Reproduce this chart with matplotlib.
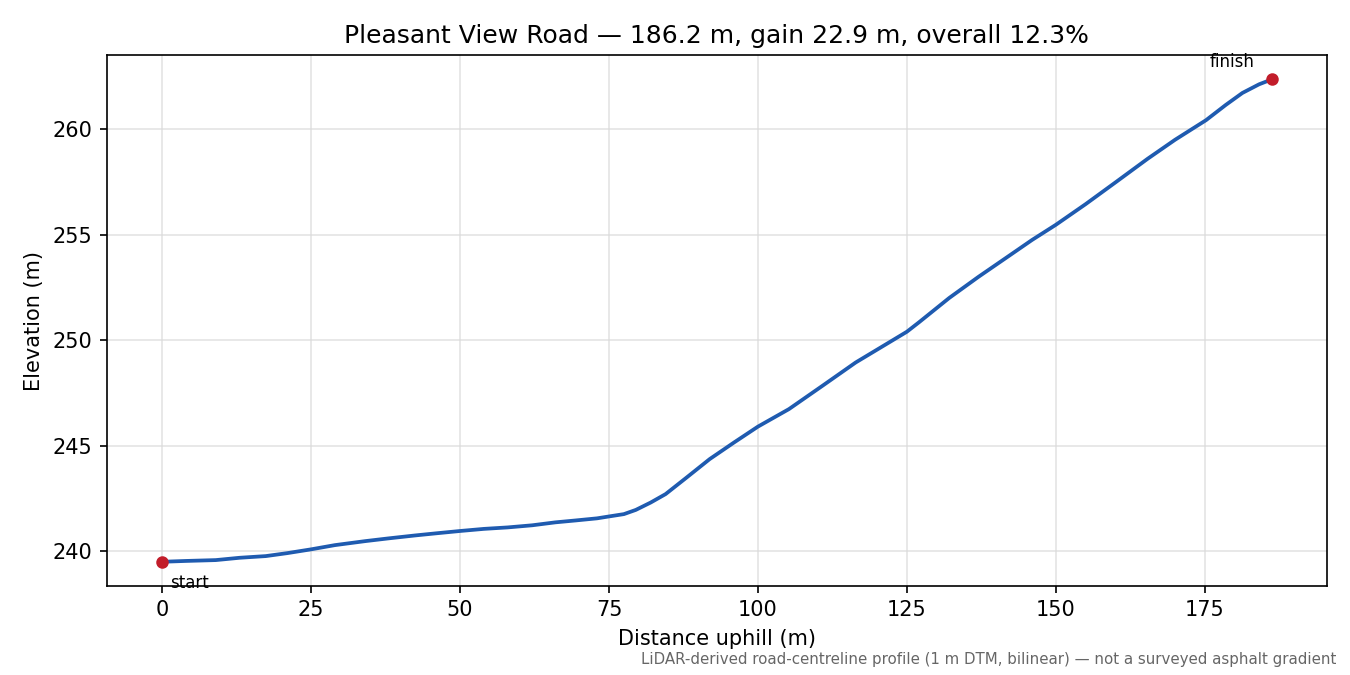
import numpy as np
import matplotlib
matplotlib.use("Agg")
import matplotlib.pyplot as plt

# profile (distance uphill m, elevation m)
dist = [0, 4, 9, 13, 17.4, 21, 25, 29, 34.1, 38, 42.5, 46, 50, 54, 58, 62.1, 66, 69.4,
        73, 75, 77.5, 79.5, 82, 84.5, 88, 91.9, 96, 100, 105.2, 110.8, 116.4, 122, 125,
        127, 132.1, 137, 142.2, 146, 150, 155, 160.1, 165.4, 170, 175.2, 178.5, 181.3,
        184.1, 186.2]
elev = [239.49, 239.53, 239.57, 239.68, 239.76, 239.9, 240.08, 240.28, 240.47, 240.6,
        240.74, 240.84, 240.95, 241.05, 241.12, 241.22, 241.36, 241.45, 241.55, 241.64,
        241.75, 241.95, 242.3, 242.7, 243.48, 244.36, 245.15, 245.9, 246.73, 247.83,
        248.94, 249.89, 250.4, 250.84, 252.0, 253.0, 254.01, 254.75, 255.47, 256.45,
        257.5, 258.6, 259.5, 260.43, 261.15, 261.72, 262.13, 262.36]

dist = np.array(dist)
elev = np.array(elev)
length = dist[-1]
gain = elev[-1] - elev[0]

fig, ax = plt.subplots(figsize=(9, 4.5), dpi=150)
fig.subplots_adjust(left=0.079, right=0.983, top=0.918, bottom=0.132)

ax.plot(dist, elev, color="#1f5bb0", lw=1.8, zorder=3)
ax.plot([dist[0], dist[-1]], [elev[0], elev[-1]], "o", color="#c21d2a", ms=5, zorder=4)
ax.annotate("start", (dist[0], elev[0]), xytext=(4, -6), textcoords="offset points",
            ha="left", va="top", fontsize=8)
ax.annotate("finish", (dist[-1], elev[-1]), xytext=(-8, 4), textcoords="offset points",
            ha="right", va="bottom", fontsize=8)

ax.grid(True, color="#d9d9d9", alpha=0.7, lw=0.8)
ax.set_xlabel("Distance uphill (m)")
ax.set_ylabel("Elevation (m)")
ax.set_title("Pleasant View Road \u2014 {:.1f} m, gain {:.1f} m, overall {:.1f}%".format(
    length, gain, 12.3))

fig.text(0.99, 0.012, "LiDAR-derived road-centreline profile (1 m DTM, bilinear) \u2014 "
         "not a surveyed asphalt gradient", ha="right", va="bottom", fontsize=7.2,
         color="#666666")

fig.savefig("out.png", dpi=150)
